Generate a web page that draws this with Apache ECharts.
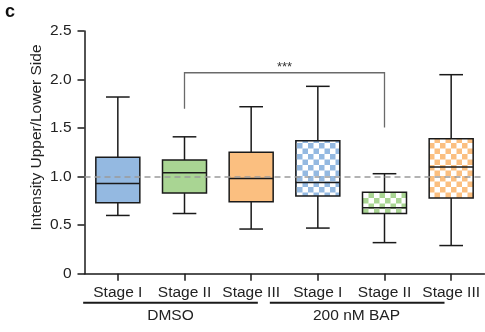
<!DOCTYPE html>
<html><head><meta charset="utf-8">
<script src="https://cdn.jsdelivr.net/npm/echarts@6/dist/echarts.min.js"></script>
<style>html,body{margin:0;padding:0;background:#fff}#c{width:485px;height:332px}</style>
</head><body><div id="c"></div>
<script>
// ---- data ----
const categories = ['Stage I', 'Stage II', 'Stage III', 'Stage I', 'Stage II', 'Stage III'];
const whiskerLow  = [0.60, 0.62, 0.46, 0.47, 0.32, 0.29];
const q1          = [0.73, 0.83, 0.74, 0.80, 0.62, 0.78];
const median      = [0.93, 1.04, 0.98, 0.94, 0.68, 1.10];
const q3          = [1.20, 1.17, 1.25, 1.37, 0.84, 1.39];
const whiskerHigh = [1.82, 1.41, 1.72, 1.93, 1.03, 2.05];
const boxColors   = ['#94B9E1', '#A9D593', '#FBBF80', '#94B9E1', '#A9D593', '#FBBF80'];
const checkered   = [false, false, false, true, true, true];
const groups = [{ name: 'DMSO', from: 0, to: 2 }, { name: '200 nM BAP', from: 3, to: 5 }];
const yTicks = [0, 0.5, 1.0, 1.5, 2.0, 2.5];
const yTickLabels = ['0', '0.5', '1.0', '1.5', '2.0', '2.5'];
const refLine = 1.0;
// significance bracket: [fromIndex, toIndex, top, leftLegEnd, rightLegEnd, label]
const sigBracket = [1, 4, 2.07, 1.70, 1.505, '***'];

const FONT = '"Liberation Sans", Arial, Helvetica, sans-serif';
const TXT = '#222';

function checker(color) {
  const c = document.createElement('canvas');
  const s = 11; c.width = s; c.height = s;
  const g = c.getContext('2d');
  g.fillStyle = '#fff'; g.fillRect(0, 0, s, s);
  g.fillStyle = color;
  g.fillRect(0, 0, 5.5, 5.5); g.fillRect(5.5, 5.5, 5.5, 5.5);
  return c;
}

const boxData = categories.map((c, i) => [i, whiskerLow[i], q1[i], median[i], q3[i], whiskerHigh[i]]);

const chart = echarts.init(document.getElementById('c'), null, { renderer: 'canvas' });

function renderBox(params, api) {
  const i = api.value(0);
  const band = api.size([1, 0])[0];
  const bw = band * 0.66, cw = band * 0.355;
  const pLow = api.coord([i, api.value(1)]);
  const pQ1 = api.coord([i, api.value(2)]);
  const pMed = api.coord([i, api.value(3)]);
  const pQ3 = api.coord([i, api.value(4)]);
  const pHigh = api.coord([i, api.value(5)]);
  const x = pMed[0];
  const fill = checkered[i] ? { image: checker(boxColors[i]), repeat: 'repeat' } : boxColors[i];
  const ls = { stroke: '#1a1a1a', lineWidth: 1.5 };
  return {
    type: 'group',
    children: [
      { type: 'line', shape: { x1: x, y1: pHigh[1], x2: x, y2: pQ3[1] }, style: ls },
      { type: 'line', shape: { x1: x, y1: pQ1[1], x2: x, y2: pLow[1] }, style: ls },
      { type: 'line', shape: { x1: x - cw / 2, y1: pHigh[1], x2: x + cw / 2, y2: pHigh[1] }, style: ls },
      { type: 'line', shape: { x1: x - cw / 2, y1: pLow[1], x2: x + cw / 2, y2: pLow[1] }, style: ls },
      { type: 'rect', shape: { x: x - bw / 2, y: pQ3[1], width: bw, height: pQ1[1] - pQ3[1] },
        style: { fill: fill, stroke: '#1a1a1a', lineWidth: 1.5 } },
      { type: 'line', shape: { x1: x - bw / 2, y1: pMed[1], x2: x + bw / 2, y2: pMed[1] }, style: ls }
    ]
  };
}

function renderBracket(params, api) {
  const a = api.value(0), b = api.value(1);
  const pTopL = api.coord([a, api.value(2)]);
  const pTopR = api.coord([b, api.value(2)]);
  const pL = api.coord([a, api.value(3)]);
  const pR = api.coord([b, api.value(4)]);
  return {
    type: 'group',
    children: [
      { type: 'polyline', shape: { points: [[pL[0], pL[1]], [pTopL[0], pTopL[1]], [pTopR[0], pTopR[1]], [pR[0], pR[1]]] },
        style: { stroke: '#6a6a6a', lineWidth: 1.3, fill: null } },
      { type: 'text', x: (pTopL[0] + pTopR[0]) / 2, y: pTopL[1] + 1,
        style: { text: sigBracket[5], fill: '#333', font: '13px ' + FONT, textAlign: 'center', textVerticalAlign: 'bottom' } }
    ]
  };
}

chart.setOption({
  animation: false,
  backgroundColor: '#fff',
  grid: { left: 84.5, right: 0.5, top: 31, bottom: 58.3, containLabel: false },
  xAxis: {
    type: 'category',
    data: categories.map((c, i) => String(i)),
    boundaryGap: true,
    axisLine: { lineStyle: { color: '#1a1a1a', width: 1.5 } },
    axisTick: { show: true, alignWithLabel: true, length: 7, lineStyle: { color: '#1a1a1a', width: 1.5 } },
    axisLabel: { formatter: v => categories[+v], color: TXT, fontSize: 15.5, fontFamily: FONT, margin: 11, interval: 0 },
    splitLine: { show: false }
  },
  yAxis: {
    type: 'value', min: yTicks[0], max: yTicks[yTicks.length - 1], interval: 0.5,
    axisLine: { show: true, lineStyle: { color: '#1a1a1a', width: 1.5 } },
    axisTick: { show: true, length: 7, lineStyle: { color: '#1a1a1a', width: 1.5 } },
    axisLabel: { formatter: v => yTickLabels[yTicks.findIndex(t => Math.abs(t - v) < 1e-6)], color: TXT, fontSize: 15.5, fontFamily: FONT, margin: 13 },
    splitLine: { show: false }
  },
  series: [
    {
      type: 'custom', renderItem: renderBox, data: boxData,
      encode: { x: 0, y: [1, 2, 3, 4, 5] }, z: 2,
      markLine: {
        silent: true, symbol: ['none', 'none'], label: { show: false },
        lineStyle: { color: '#9a9a9a', type: [6, 4], width: 1.6 },
        data: [{ yAxis: refLine }], z: 5
      }
    },
    {
      type: 'custom', renderItem: renderBracket, data: [sigBracket.slice(0, 5)],
      encode: { x: [0, 1], y: [2, 3, 4] }, z: 3
    }
  ]
});

// group annotations under the axis, positioned from the category scale
const g = [];
const px = i => chart.convertToPixel({ xAxisIndex: 0 }, String(i));
const band = px(1) - px(0);
const lineY = 302.7;
const groupSpans = [[-0.52, 0.1], [-0.72, -0.1]];
groups.forEach((gr, k) => {
  const x1 = px(gr.from) + groupSpans[k][0] * band;
  const x2 = px(gr.to) + groupSpans[k][1] * band;
  g.push({ type: 'line', shape: { x1: x1, y1: lineY, x2: x2, y2: lineY }, style: { stroke: '#1a1a1a', lineWidth: 2 } });
  g.push({ type: 'text', x: (px(gr.from) + px(gr.to)) / 2 + (k === 0 ? -14 : -28), y: 315.5,
    style: { text: gr.name, fill: TXT, font: '15.5px ' + FONT, textAlign: 'center', textVerticalAlign: 'middle' } });
});
g.push({ type: 'text', x: 37, y: 137.5, rotation: Math.PI / 2,
  style: { text: 'Intensity Upper/Lower Side', fill: TXT, font: '15.5px ' + FONT, textAlign: 'center', textVerticalAlign: 'middle' } });
g.push({ type: 'text', x: 5, y: 12,
  style: { text: 'c', fill: '#111', font: 'bold 18px ' + FONT, textAlign: 'left', textVerticalAlign: 'middle' } });
chart.setOption({ graphic: g });
</script>
</body></html>
